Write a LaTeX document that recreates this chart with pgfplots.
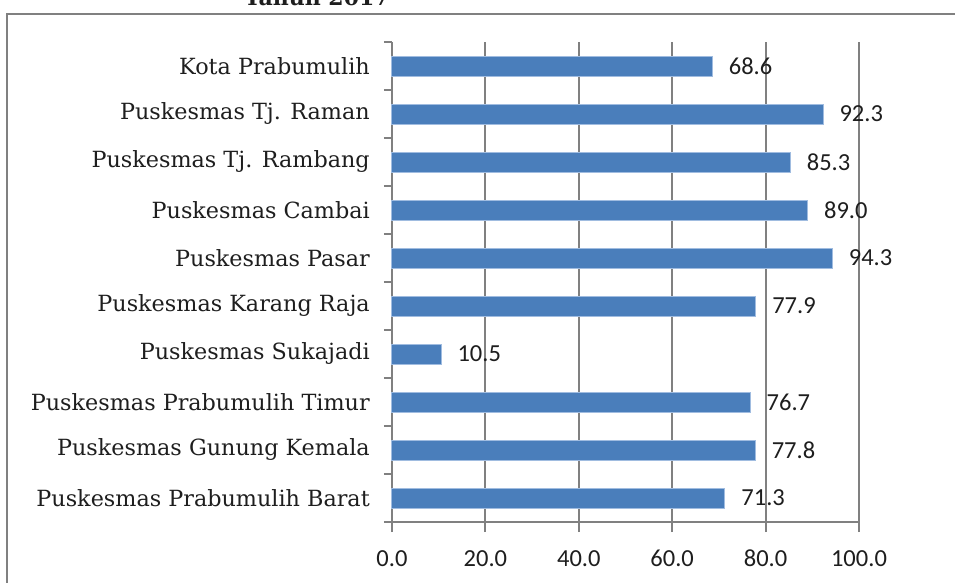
\documentclass[border=0pt]{standalone}
\usepackage{fontspec}
\setmainfont{DejaVu Serif}
\newfontfamily\numfont{Carlito}
\usepackage{pgfplots}
\pgfplotsset{compat=1.18}
\definecolor{barblue}{RGB}{74,126,187}
\definecolor{baredge}{RGB}{160,188,224}
\definecolor{axisgray}{RGB}{128,128,128}
\definecolor{framegray}{RGB}{128,128,128}
\definecolor{txt}{RGB}{30,30,30}
\begin{document}
\begin{tikzpicture}
\path[use as bounding box] (-392pt,-60pt) rectangle (563pt,522pt);
\clip (-392pt,-60pt) rectangle (563pt,522pt);
\draw[framegray, line width=2.5pt] (-385pt,-80pt) -- (-385pt,508pt) -- (600pt,508pt);
\node[anchor=base, text=txt, font=\bfseries\fontsize{22}{26}\selectfont] at (-75pt,516pt) {Tahun 2017};
\begin{axis}[
  scale only axis, width=467pt, height=480pt,
  xmin=0, xmax=100, ymin=-0.5, ymax=9.5,
  xbar, bar width=20pt,
  axis x line=bottom, axis y line=left,
  axis line style={-, draw=axisgray, line width=2pt},
  xtick={0,20,...,100},
  xticklabels={0.0,20.0,40.0,60.0,80.0,100.0},
  ytick={0,...,9},
  yticklabels={Puskesmas Prabumulih Barat,Puskesmas Gunung Kemala,Puskesmas Prabumulih Timur,Puskesmas Sukajadi,Puskesmas Karang Raja,Puskesmas Pasar,Puskesmas Cambai,Puskesmas Tj. Rambang,Puskesmas Tj. Raman,Kota Prabumulih},
  major tick length=0pt,
  tick style={draw=axisgray, line width=2pt},
  xmajorgrids, grid style={draw=axisgray, line width=2pt},
  extra x ticks={0,20,...,100}, extra x tick labels={},
  extra x tick style={major tick length=10pt, tick align=outside},
  extra y ticks={-0.5,0.5,...,9.5}, extra y tick labels={},
  extra y tick style={major tick length=8pt, tick align=outside},
  xticklabel style={font=\numfont\fontsize{24.5}{28}\selectfont, inner sep=0pt, anchor=north, yshift=-28pt, text=txt},
  yticklabel style={font=\fontsize{22.3}{26}\selectfont, inner sep=0pt, anchor=east, xshift=-22pt, text=txt},
  point meta=explicit symbolic,
  nodes near coords,
  nodes near coords style={font=\numfont\fontsize{24.5}{28}\selectfont, anchor=west, inner sep=0pt, xshift=16pt, text=txt},
  clip=false,
]
\addplot[fill=barblue, draw=baredge, line width=1pt] coordinates {
  (71.3,0) [71.3]
  (77.8,1) [77.8]
  (76.7,2) [76.7]
  (10.5,3) [10.5]
  (77.9,4) [77.9]
  (94.3,5) [94.3]
  (89.0,6) [89.0]
  (85.3,7) [85.3]
  (92.3,8) [92.3]
  (68.6,9) [68.6]
};
\end{axis}
\end{tikzpicture}
\end{document}
